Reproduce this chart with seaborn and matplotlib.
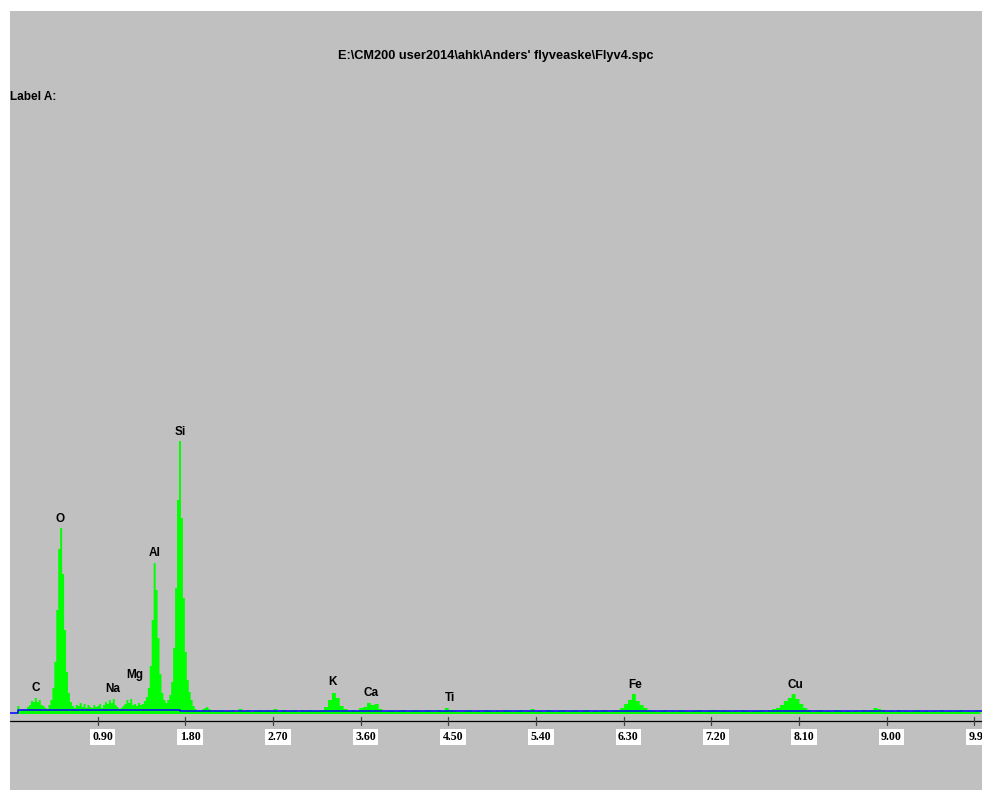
import numpy as np
import pandas as pd
import matplotlib
matplotlib.use("Agg")
import matplotlib.pyplot as plt
import seaborn as sns

# ---------------- data ----------------
title_text = "E:\\CM200 user2014\\ahk\\Anders' flyveaske\\Flyv4.spc"
label_text = "Label A:"

# low-energy channels 0.00 .. 2.20 keV, step 0.02 keV
low_start, low_step = 0.00, 0.02
low_counts = [
    0, 0, 0, 0, 8, 3, 4, 5, 4, 7,
    9, 13, 12, 16, 12, 14, 9, 8, 6, 5,
    9, 14, 26, 52, 104, 165, 186, 140, 84, 42,
    21, 12, 8, 6, 9, 8, 11, 7, 10, 6,
    9, 7, 6, 9, 7, 8, 10, 6, 9, 12,
    10, 14, 11, 15, 9, 7, 5, 6, 8, 10,
    14, 11, 15, 9, 10, 8, 11, 9, 10, 13,
    17, 26, 48, 94, 151, 124, 76, 40, 21, 14,
    11, 14, 19, 32, 66, 126, 214, 273, 196, 116,
    62, 34, 22, 14, 8, 5, 3, 4, 3, 5,
    6, 7, 5, 4, 3, 4, 3, 4, 3, 4,
    3,
]

# high-energy channels 2.24 .. 9.96 keV, step 0.04 keV
high_start, high_step = 2.24, 0.04
high_counts = [
    3, 4, 2, 5, 3, 4, 2, 3, 4, 3,
    4, 3, 5, 2, 4, 3, 3, 4, 2, 4,
    3, 4, 3, 3, 4, 7, 14, 21, 16, 8,
    5, 3, 4, 3, 6, 7, 11, 9, 10, 5,
    2, 3, 3, 2, 3, 4, 2, 3, 4, 3,
    2, 4, 3, 2, 4, 3, 6, 4, 3, 2,
    2, 3, 4, 2, 3, 2, 4, 3, 2, 3,
    2, 4, 3, 2, 3, 4, 2, 3, 5, 2,
    3, 2, 4, 3, 2, 3, 4, 2, 3, 4,
    2, 3, 4, 2, 3, 2, 4, 3, 2, 4,
    4, 6, 10, 14, 20, 13, 9, 6, 4, 3,
    2, 3, 4, 2, 3, 2, 4, 3, 2, 3,
    3, 4, 2, 3, 4, 4, 3, 4, 3, 2,
    3, 2, 4, 3, 2, 3, 3, 4, 2, 4,
    5, 6, 9, 13, 16, 20, 15, 10, 6, 4,
    2, 3, 4, 2, 3, 2, 4, 3, 2, 3,
    2, 3, 2, 4, 3, 4, 6, 5, 4, 2,
    3, 2, 4, 2, 3, 2, 3, 4, 2, 3,
    2, 3, 2, 4, 2, 3, 2, 3, 4, 2,
    3, 2, 4, 3,
]

# fitted background (blue line), step levels
bg_energy = [0.00, 0.08, 1.75, 2.08, 3.80, 4.65, 9.98]
bg_counts = [1.0, 3.2, 2.6, 3.0, 2.4, 2.2, 2.2]

# element markers
elements = ["C", "O", "Na", "Mg", "Al", "Si", "K", "Ca", "Ti", "Fe", "Cu"]
element_kev = [0.267, 0.513, 1.057, 1.283, 1.489, 1.745, 3.316, 3.706, 4.517, 6.417, 8.06]
label_counts = [25.5, 194.5, 24.5, 38.5, 160.5, 281.5, 31.5, 20.5, 15.5, 28.5, 28.5]

tick_values = [0.90, 1.80, 2.70, 3.60, 4.50, 5.40, 6.30, 7.20, 8.10, 9.00, 9.90]

# ---------------- build frame ----------------
low_e = low_start + low_step * np.arange(len(low_counts))
high_e = high_start + high_step * np.arange(len(high_counts))
df = pd.DataFrame({
    "energy": np.concatenate([low_e, high_e]),
    "counts": np.concatenate([low_counts, high_counts]).astype(float),
})
bg = pd.DataFrame({"energy": bg_energy, "counts": bg_counts})

# ---------------- figure ----------------
sns.set_theme(style="white")
plt.rcParams["font.family"] = ["Liberation Sans", "DejaVu Sans"]

W, H = 984, 790
fig = plt.figure(figsize=(W / 100, H / 100), dpi=100, facecolor="white")
left_px, right_px, top_px, bottom_px = 10, 982, 11, 790
ax = fig.add_axes([left_px / W, 1 - bottom_px / H,
                   (right_px - left_px) / W, (bottom_px - top_px) / H])
ax.set_facecolor("#C0C0C0")
for s in ax.spines.values():
    s.set_visible(False)
ax.set_xticks([])
ax.set_yticks([])

px_per_kev = 97.4
ax.set_xlim(0, (right_px - left_px) / px_per_kev)
base_px = 713.5
ax.set_ylim(-(bottom_px - base_px), base_px - top_px)

# spectrum (green histogram)
ax.fill_between(df["energy"], 0, df["counts"], step="mid",
                color="#00FF00", linewidth=0, zorder=2)
# background fit (blue)
sns.lineplot(data=bg, x="energy", y="counts", drawstyle="steps-post",
             color="#0000FF", linewidth=1.1, ax=ax, zorder=6)
ax.set_xlabel("")
ax.set_ylabel("")

# energy axis
ax.axhline(-7.5, color="black", linewidth=0.9, zorder=4)
for t in tick_values:
    ax.plot([t, t], [-3.5, -11.5], color="#404040", linewidth=0.9, zorder=4)
    txt = ax.text(t + 0.05, -23.5, f"{t:.2f}", ha="center", va="center",
                  fontsize=8.6, fontweight="bold", family=["Liberation Serif"],
                  color="black", zorder=5, clip_on=True,
                  bbox=dict(boxstyle="square,pad=0.2", fc="white", ec="none"))
    txt.set_clip_path(ax.patch)

# element labels
for name, e, c in zip(elements, element_kev, label_counts):
    ax.text(e, c, name, ha="center", va="center", fontsize=8.5,
            fontweight="bold", color="black", zorder=5)

# header texts
fig.text(496 / W, 1 - 56 / H, title_text, ha="center", va="center",
         fontsize=9.2, fontweight="bold", color="black")
fig.text(10 / W, 1 - 97 / H, label_text, ha="left", va="center",
         fontsize=8.5, fontweight="bold", color="black")

fig.savefig("out.png", dpi=100, facecolor="white")
